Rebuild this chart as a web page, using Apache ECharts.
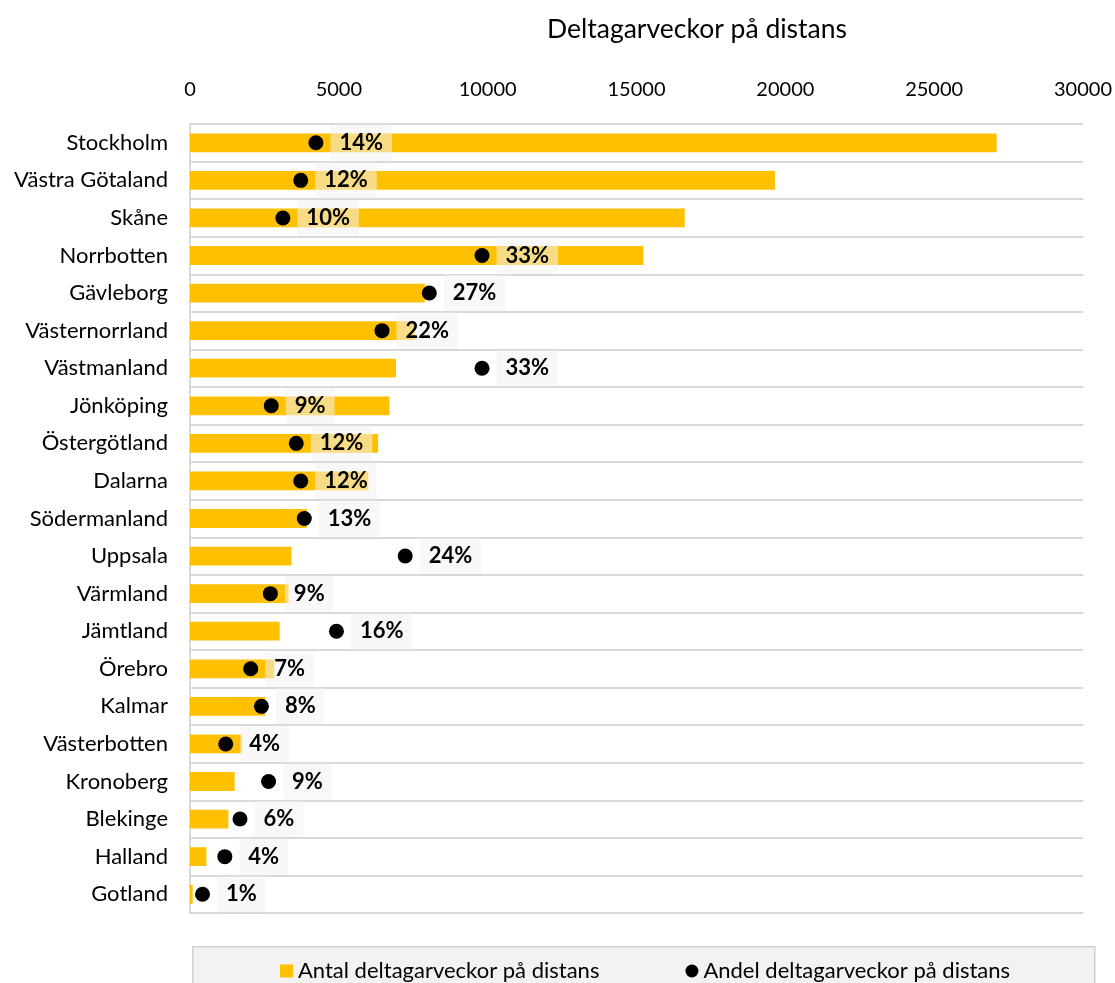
<!DOCTYPE html>
<html>
<head>
<meta charset="utf-8">
<script src="https://cdn.jsdelivr.net/npm/echarts@6/dist/echarts.min.js"></script>
<style>
html,body{margin:0;padding:0;background:#fff;}
#c{width:1115px;height:983px;}
</style>
</head>
<body>
<div id="c"></div>
<script>
const categories = ["Stockholm","Västra Götaland","Skåne","Norrbotten","Gävleborg","Västernorrland","Västmanland","Jönköping","Östergötland","Dalarna","Södermanland","Uppsala","Värmland","Jämtland","Örebro","Kalmar","Västerbotten","Kronoberg","Blekinge","Halland","Gotland"];
const antal = [27100,19650,16620,15230,7890,7560,6920,6700,6320,5990,3920,3410,3310,3010,2830,2520,1740,1500,1290,550,90];
const andel = [0.141,0.124,0.104,0.327,0.268,0.215,0.327,0.091,0.119,0.124,0.128,0.241,0.090,0.164,0.068,0.080,0.040,0.088,0.056,0.039,0.014];
const xTicks = {min:0, max:30000, interval:5000};

const FONT = 'Lato';
const chart = echarts.init(document.getElementById('c'), null, {renderer:'canvas'});
chart.setOption({
  animation:false,
  textStyle:{fontFamily:FONT, color:'#000'},
  title:{text:'Deltagarveckor på distans', left:692, top:11, textAlign:'center',
    textStyle:{fontFamily:FONT, fontSize:26.5, fontWeight:'normal', color:'#000'}},
  graphic:[{type:'rect', left:192, top:946, shape:{width:902, height:50},
    style:{fill:'#f2f2f2', stroke:'#d0d0d0', lineWidth:1.5}, z:-1}],
  legend:{left:275, top:955, itemGap:86, itemWidth:13, itemHeight:13,
    textStyle:{fontFamily:FONT, fontSize:22, color:'#000'},
    data:[{name:'Antal deltagarveckor på distans', icon:'rect'},{name:'Andel deltagarveckor på distans', icon:'circle'}]},
  grid:{left:190, right:32, top:124, bottom:70, containLabel:false},
  xAxis:[
    {type:'value', position:'top', min:xTicks.min, max:xTicks.max, interval:xTicks.interval,
      axisLine:{show:false}, axisTick:{show:false}, splitLine:{show:false},
      axisLabel:{fontFamily:FONT, fontSize:20, color:'#000', margin:24, formatter:v=>String(v)}},
    {type:'value', min:0, max:1, show:false}
  ],
  yAxis:{type:'category', data:categories, inverse:true,
    axisLine:{show:true, lineStyle:{color:'#d9d9d9', width:2}},
    axisTick:{show:false},
    splitLine:{show:true, lineStyle:{color:'#d9d9d9', width:2}},
    axisLabel:{fontFamily:FONT, fontSize:22, color:'#000', margin:22}},
  series:[
    {name:'Antal deltagarveckor på distans', type:'bar', xAxisIndex:0, data:antal,
      barWidth:'50%', itemStyle:{color:'#ffc000'}},
    {name:'Andel deltagarveckor på distans', type:'scatter', xAxisIndex:1,
      data:andel.map((v,i)=>[v, categories[i]]), symbolSize:15, itemStyle:{color:'#000', opacity:1}, z:5,
      label:{show:true, position:'right', distance:7,
        formatter:p=>Math.round(p.value[0]*100)+'%',
        fontFamily:FONT, fontSize:22, fontWeight:'bold', color:'#000',
        backgroundColor:'rgba(242,242,242,0.55)', padding:[7,9,7,9], lineHeight:22}}
  ]
});
</script>
</body>
</html>
